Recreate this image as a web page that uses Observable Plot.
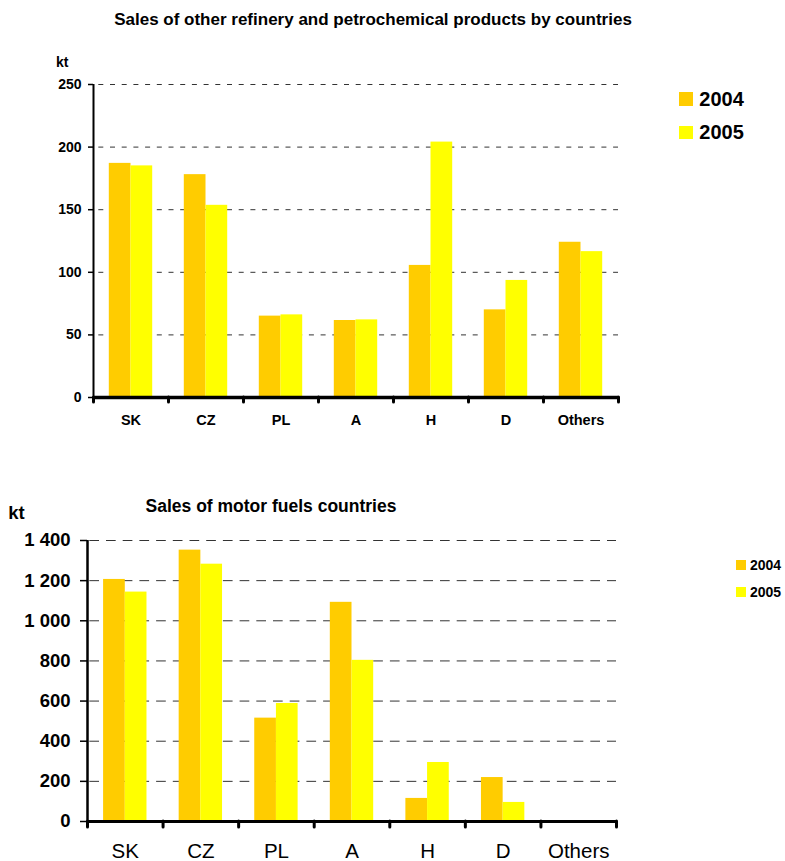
<!DOCTYPE html>
<html>
<head>
<meta charset="utf-8">
<script src="https://cdn.jsdelivr.net/npm/d3@7"></script>
<script src="https://cdn.jsdelivr.net/npm/@observablehq/plot@0.6"></script>
<style>
  body { margin: 0; background: #fff; }
  #page { position: relative; width: 785px; height: 861px; overflow: hidden;
          font-family: "Liberation Sans", Arial, Helvetica, sans-serif; color: #000; }
  #page svg { position: absolute; left: 0; top: 0; }
  .t { position: absolute; white-space: nowrap; line-height: 1; }
  .sw { position: absolute; }
</style>
</head>
<body>
<div id="page"></div>
<script>
// Sales by country, kt
const countries = ["SK", "CZ", "PL", "A", "H", "D", "Others"];
const years = ["2004", "2005"];
const yearColors = ["#FFCC00", "#FFFF00"];

// Other refinery and petrochemical products
const refinery2004 = [187, 178, 65, 61.5, 105.5, 70, 124];
const refinery2005 = [185, 153.5, 66, 62, 204, 93.5, 116.5];
const refineryTicks = [0, 50, 100, 150, 200, 250];

// Motor fuels
const fuels2004 = [1206, 1352, 515, 1092, 115, 219, 4];
const fuels2005 = [1143, 1282, 588, 803, 294, 95, 0];
const fuelsTicks = [0, 200, 400, 600, 800, 1000, 1200, 1400];

const W = 785, H = 861;
const FONT = '"Liberation Sans", Arial, Helvetica, sans-serif';
const spaced = d3.formatLocale({decimal: ".", thousands: " ", grouping: [3], currency: ["", ""]}).format(",");
const page = document.getElementById("page");

function rowsOf(v04, v05) {
  return countries.flatMap((c, i) => [
    {country: c, year: years[0], value: v04[i]},
    {country: c, year: years[1], value: v05[i]}
  ]);
}

function chart(cfg) {
  const margins = {
    marginTop: cfg.top, marginBottom: H - cfg.bottom,
    marginLeft: cfg.left, marginRight: W - cfg.right
  };
  const yDomain = [0, d3.max(cfg.ticks)];
  const rows = rowsOf(cfg.v04, cfg.v05);

  // grid, value axis and category boundary ticks
  const grid = Plot.plot({
    width: W, height: H, ...margins,
    style: {background: "transparent", fontFamily: FONT, color: "#000"},
    x: {domain: [0, countries.length], axis: null},
    y: {domain: yDomain, axis: null},
    marks: [
      Plot.ruleY(cfg.ticks.slice(1), {
        stroke: "#333", strokeWidth: 1,
        strokeDasharray: cfg.dash, strokeDashoffset: cfg.dashOffset
      }),
      Plot.ruleX(d3.range(countries.length + 1), {
        x: d => d, y1: 0, y2: 0, insetBottom: -cfg.catTick,
        stroke: "#000", strokeWidth: 3, strokeLinecap: "round"
      }),
      Plot.ruleY(cfg.ticks, {
        y: d => d, x1: 0, x2: 0, insetLeft: -cfg.valTick,
        stroke: "#000", strokeWidth: 1.5
      }),
      Plot.ruleX([0], {
        x: d => d, y1: yDomain[0], y2: yDomain[1],
        stroke: "#000", strokeWidth: cfg.axisWidth
      }),
      Plot.text(cfg.ticks, {
        x: 0, y: d => d, text: d => spaced(d), textAnchor: "end",
        dx: -cfg.valGap, fill: "#000", fontSize: cfg.valFont, fontWeight: "bold"
      })
    ]
  });

  // grouped bars, one facet per country
  const bars = Plot.plot({
    width: W, height: H, ...margins,
    style: {background: "transparent", fontFamily: FONT, fontSize: cfg.catFont + "px",
            fontWeight: cfg.catWeight, color: "#000"},
    facet: {data: rows, x: "country"},
    fx: {domain: countries, padding: 0, round: false, axis: "bottom",
         tickSize: 0, tickPadding: cfg.catPad, label: null},
    x: {domain: years, paddingInner: 0, paddingOuter: cfg.barPad, round: false, axis: null},
    y: {domain: yDomain, axis: null},
    color: {domain: years, range: yearColors},
    marks: [
      Plot.barY(rows, {x: "year", y: "value", fill: "year"}),
      Plot.ruleY([0], {stroke: "#000", strokeWidth: cfg.baseWidth})
    ]
  });

  page.append(grid, bars);
}

function text(str, left, baseline, size, opts = {}) {
  const d = document.createElement("div");
  d.className = "t";
  d.textContent = str;
  d.style.fontSize = size + "px";
  d.style.fontWeight = opts.weight || "bold";
  d.style.top = (baseline - 0.8465 * size) + "px";
  if (opts.center) {
    d.style.left = left + "px";
    d.style.transform = "translateX(-50%)";
  } else {
    d.style.left = left + "px";
  }
  page.append(d);
}

function swatch(color, left, top, size) {
  const d = document.createElement("div");
  d.className = "sw";
  Object.assign(d.style, {left: left + "px", top: top + "px", width: size + "px",
                          height: size + "px", background: color});
  page.append(d);
}

chart({
  v04: refinery2004, v05: refinery2005, ticks: refineryTicks,
  top: 84, bottom: 397, left: 93, right: 618,
  dash: "5,6.7", dashOffset: 6.4, catTick: 5, valTick: 5, axisWidth: 2,
  valGap: 12, valFont: 14, catFont: 14.5, catWeight: "bold", catPad: 17.7,
  barPad: 0.728, baseWidth: 3.5
});

chart({
  v04: fuels2004, v05: fuels2005, ticks: fuelsTicks,
  top: 540, bottom: 821, left: 87, right: 616,
  dash: "9.7,7", dashOffset: 14.4, catTick: 6, valTick: 7, axisWidth: 2.5,
  valGap: 17, valFont: 18.5, catFont: 20.5, catWeight: "normal", catPad: 21.7,
  barPad: 0.742, baseWidth: 3
});

// titles and units
text("Sales of other refinery and petrochemical products by countries", 373, 25, 17, {center: true});
text("kt", 56, 66.7, 14);
text("Sales of motor fuels countries", 271, 513.3, 17.5, {center: true});
text("kt", 8.3, 520, 18.5);

// legends
years.forEach((y, i) => {
  swatch(yearColors[i], 679.3, [92.3, 125.7][i], 13.4);
  text(y, 699.3, [106, 139][i], 20);
  swatch(yearColors[i], 736, [560, 587][i], 9.5);
  text(y, 750, [570, 597][i], 14);
});
</script>
</body>
</html>
